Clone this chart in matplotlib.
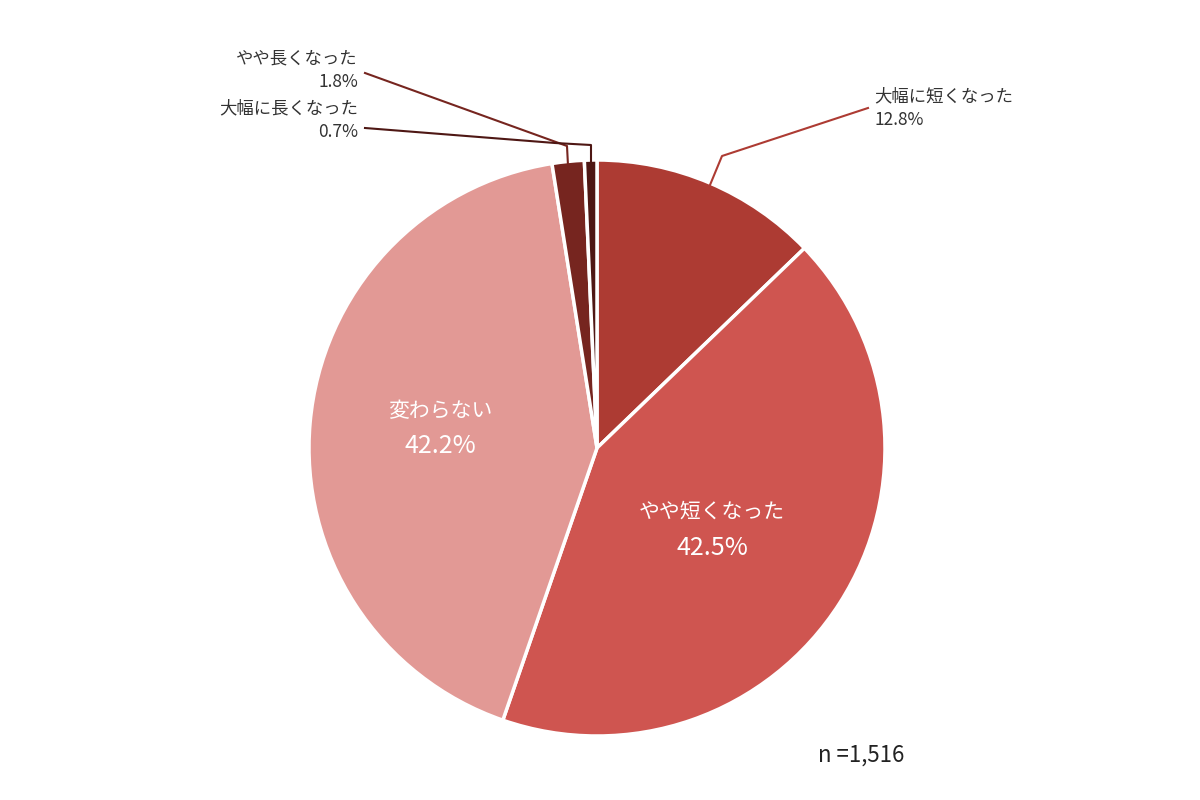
import matplotlib.pyplot as plt

plt.rcParams['font.family'] = ['Noto Sans CJK JP', 'DejaVu Sans']

labels = ["大幅に短くなった", "やや短くなった", "変わらない", "やや長くなった", "大幅に長くなった"]
values = [12.8, 42.5, 42.2, 1.8, 0.7]
colors = ["#ad3b33", "#cf5550", "#e29995", "#76251f", "#4e1714"]


def main():
    fig = plt.figure(figsize=(12, 8), dpi=100)
    ax = fig.add_axes([0, 0, 1, 1])
    ax.set_xlim(0, 1200)
    ax.set_ylim(0, 800)
    ax.set_aspect("equal")
    ax.axis("off")

    H = 800
    cx, cy, r = 597, H - 448, 288
    ax.pie(values, colors=colors, startangle=90, counterclock=False,
           center=(cx, cy), radius=r, frame=True,
           wedgeprops=dict(edgecolor="white", linewidth=2.5))
    ax.set_xlim(0, 1200)
    ax.set_ylim(0, 800)
    ax.axis("off")

    # inside labels
    ax.text(712, H - 512, labels[1], color="white", fontsize=15, ha="center", va="center")
    ax.text(712, H - 548, f"{values[1]}%", color="white", fontsize=18, ha="center", va="center")
    ax.text(440, H - 411, labels[2], color="white", fontsize=15, ha="center", va="center")
    ax.text(440, H - 446, f"{values[2]}%", color="white", fontsize=18, ha="center", va="center")

    # outside labels with leader lines
    ax.plot([710, 722, 868], [H - 185, H - 156, H - 108], color=colors[0], lw=1.5)
    ax.text(874, H - 96, labels[0], color="#333333", fontsize=12.5, ha="left", va="center")
    ax.text(874, H - 120, f"{values[0]}%", color="#333333", fontsize=12.5, ha="left", va="center")

    ax.plot([569, 567, 365], [H - 185, H - 146, H - 73], color=colors[3], lw=1.5)
    ax.text(358, H - 58, labels[3], color="#333333", fontsize=12.5, ha="right", va="center")
    ax.text(358, H - 82, f"{values[3]}%", color="#333333", fontsize=12.5, ha="right", va="center")

    ax.plot([591, 591, 555, 365], [H - 185, H - 145, H - 143, H - 128], color=colors[4], lw=1.5)
    ax.text(358, H - 108, labels[4], color="#333333", fontsize=12.5, ha="right", va="center")
    ax.text(358, H - 132, f"{values[4]}%", color="#333333", fontsize=12.5, ha="right", va="center")

    ax.text(818, H - 755, "n =1,516", color="#222222", fontsize=16, ha="left", va="center")

    fig.savefig("out.png", dpi=100)


if __name__ == "__main__":
    main()
